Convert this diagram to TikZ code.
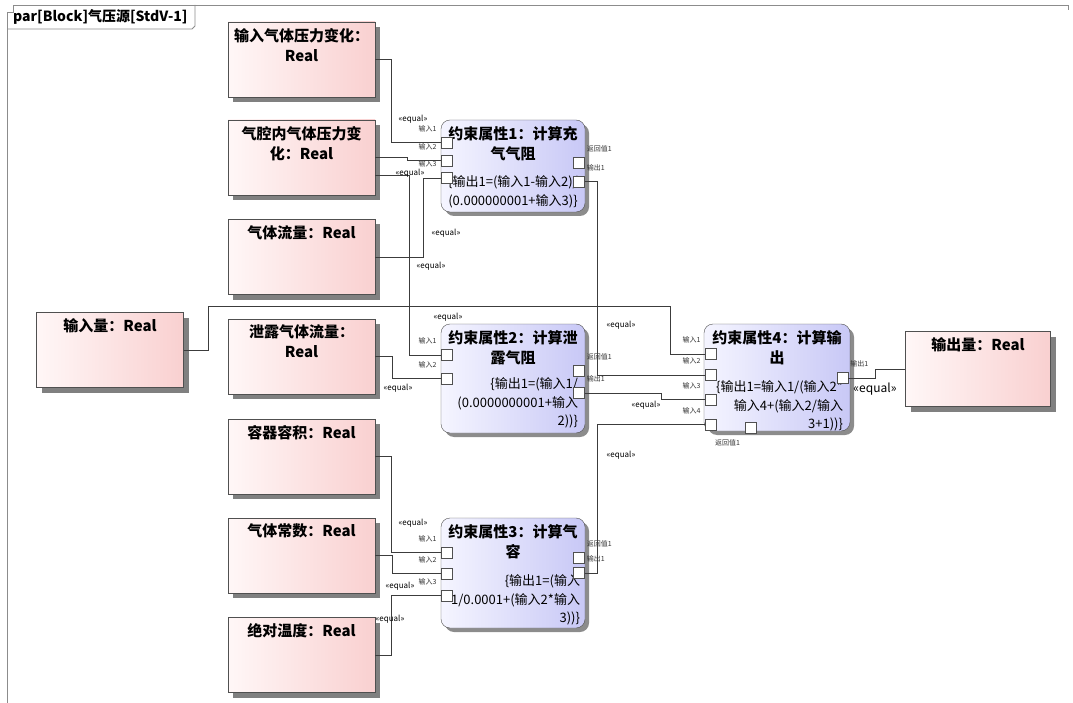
\documentclass[tikz,border=0pt]{standalone}
\usepackage{fontspec}
\setmainfont{Noto Sans CJK SC}
\usetikzlibrary{positioning,shadows}

\definecolor{pinkL}{HTML}{FFF7F7}
\definecolor{pinkR}{HTML}{F9D0D0}
\definecolor{lavL}{HTML}{F5F5FF}
\definecolor{lavR}{HTML}{C8C8F6}
\definecolor{edge}{HTML}{505050}
\definecolor{wirec}{HTML}{3C3C3C}
\definecolor{framec}{HTML}{8C8C8C}

\begin{document}
\begin{tikzpicture}[
  x=1pt, y=-1pt,
  part/.style={draw=edge,left color=pinkL,right color=pinkR,
    minimum width=147pt,minimum height=75pt,inner sep=0pt,
    drop shadow={shadow xshift=5pt,shadow yshift=-5pt,fill=black!50,opacity=1}},
  cons/.style={draw=edge,rounded corners=9pt,left color=lavL,right color=lavR,
    minimum width=144pt,inner sep=0pt,
    drop shadow={shadow xshift=4pt,shadow yshift=-4pt,fill=black!45,opacity=1}},
  ttl/.style={font=\fontsize{15}{20}\selectfont\bfseries,align=center,inner sep=0pt},
  rule/.style={font=\fontsize{13}{18.5}\selectfont,inner sep=0pt},
  port/.style={draw=edge,fill=white,minimum size=11pt,inner sep=0pt},
  plbl/.style={font=\fontsize{7}{8}\selectfont,inner sep=0pt,text=black!80},
  eq/.style={font=\fontsize{8}{9}\selectfont,inner sep=0pt},
  wire/.style={draw=wirec,line width=0.8pt}
]
  \useasboundingbox (0,0) rectangle (1073,703);

  % value parts
  \node[part] (in1) at (301.5,59.5) {};
  \node[part] (in2) at (301.5,157.5) {};
  \node[part] (in3) at (301.5,257) {};
  \node[part] (in4) at (110,350) {};
  \node[part] (in5) at (301.5,356.5) {};
  \node[part] (in6) at (301.5,456.5) {};
  \node[part] (in7) at (301.5,555.5) {};
  \node[part] (in8) at (301.5,655) {};
  \node[part,minimum width=145pt] (out) at (978,369) {};

  \node[ttl,below=6pt of in1.north] (in1t) {输入气体压力变化：\\Real};
  \node[ttl,below=6pt of in2.north] (in2t) {气腔内气体压力变\\化：Real};
  \node[ttl,below=6pt of in3.north] (in3t) {气体流量：Real};
  \node[ttl,below=6pt of in4.north] (in4t) {输入量：Real};
  \node[ttl,below=6pt of in5.north] (in5t) {泄露气体流量：\\Real};
  \node[ttl,below=6pt of in6.north] (in6t) {容器容积：Real};
  \node[ttl,below=6pt of in7.north] (in7t) {气体常数：Real};
  \node[ttl,below=6pt of in8.north] (in8t) {绝对温度：Real};
  \node[ttl,below=6pt of out.north] (outt) {输出量：Real};

  % constraint properties
  \node[cons,minimum height=92pt] (c1) at (513,166) {};
  \node[cons,minimum height=109pt] (c2) at (513,378.5) {};
  \node[cons,minimum height=110pt] (c3) at (513,573) {};
  \node[cons,minimum width=146pt,minimum height=107pt] (c4) at (777,377.5) {};

  \node[ttl,below=7pt of c1.north] (c1t) {约束属性1：计算充\\气气阻};
  \node[ttl,below=7pt of c2.north] (c2t) {约束属性2：计算泄\\露气阻};
  \node[ttl,below=7pt of c3.north] (c3t) {约束属性3：计算气\\容};
  \node[ttl,below=7pt of c4.north] (c4t) {约束属性4：计算输\\出};

  \node[rule,align=center,below=14pt of c1t] (c1b)
    {\{输出1=(输入1-输入2)/\\(0.000000001+输入3)\}};
  \node[rule,align=right,anchor=north east,xshift=-7pt,yshift=-12pt] (c2b)
    at (c2t.south -| c2.east) {\{输出1=(输入1/\\(0.0000000001+输入\\2))\}};
  \node[rule,align=right,anchor=north east,xshift=-5pt,yshift=-15pt] (c3b)
    at (c3t.south -| c3.east) {\{输出1=(输入\\1/0.0001+(输入2*输入\\3))\}};
  \node[rule,align=right,anchor=north east,xshift=-7pt,yshift=-15pt] (c4b)
    at (c4t.south -| c4.east) {\{输出1=输入1/(输入2*\\输入4+(输入2/输入\\3+1))\}};

  % ports
  \foreach \p/\x/\y/\t in {c1i1/446.5/142.5/输入1, c1i2/446.5/160.5/输入2,
      c1i3/446.5/178/输入3, c2i1/446.5/355/输入1, c2i2/446.5/378.5/输入2,
      c3i1/446.5/552.5/输入1, c3i2/446.5/573.5/输入2, c3i3/446.5/595.5/输入3,
      c4i1/710.5/354/输入1, c4i2/710.5/375/输入2, c4i3/710.5/399.5/输入3,
      c4i4/710.5/424.5/输入4}
  {
    \node[port] (\p) at (\x,\y) {};
    \node[plbl,anchor=south east] (\p-l) at ([xshift=-4pt,yshift=5pt]\p.north west) {\t};
  }
  \foreach \p/\x/\y/\t in {c1r/579/162.5/返回值1, c1o/579/181.5/输出1,
      c2r/579/370.5/返回值1, c2o/579/393/输出1, c3r/579/558/返回值1,
      c3o/579/573/输出1, c4o/842.5/378/输出1}
  {
    \node[port] (\p) at (\x,\y) {};
    \node[plbl,anchor=south west] (\p-l) at ([xshift=2pt,yshift=5pt]\p.north east) {\t};
  }
  \node[port] (c4r) at (751,427.5) {};
  \node[plbl,anchor=north east] (c4r-l) at ([xshift=-5pt,yshift=-6pt]c4r.south west) {返回值1};

  % bindings
  \draw[wire] (in1.east) -- ++(16,0) |- (c1i1.west);
  \draw[wire] (in2.east) -- ++(32,0) |- (c1i2.west);
  \draw[wire] ([yshift=-18pt]in2.east) -- ++(34,0) |- (c2i1.west);
  \draw[wire] (in3.east) -- ++(48,0) |- (c1i3.west);
  \draw[wire] (in4.east) -- ++(25,0) -- ++(0,-44) -- ++(462,0) |- (c4i1.west);
  \draw[wire] (in5.east) -- ++(17,0) |- (c2i2.west);
  \draw[wire] (in6.east) -- ++(16,0) |- (c3i1.west);
  \draw[wire] (in7.east) -- ++(17,0) |- (c3i2.west);
  \draw[wire] (in8.east) -- ++(16,0) |- (c3i3.west);
  \draw[wire] (c1o.east) -- ++(13,0) |- (c4i2.west);
  \draw[wire] (c2o.east) -- ++(77,0) |- (c4i3.west);
  \draw[wire] (c3o.east) -- ++(13,0) |- (c4i4.west);
  \draw[wire] (c4o.east) -- ++(27,0) |- (out.west);

  \foreach \x/\y [count=\i] in {413/119, 410/173, 446/233, 431/266, 448/317,
      398/388, 621/325, 646/405, 621/455, 413/523, 400/586, 390/619}
    \node[eq] (eq\i) at (\x,\y) {«equal»};
  \node[eq,font=\fontsize{12}{13}\selectfont] (eqout) at (875,389) {«equal»};

  % diagram frame
  \draw[framec,line width=0.8pt] (7,703) -- (7,12) -- (13,12) -- (13,5) -- (1068,5) -- (1068,10);
  \draw[framec,line width=0.8pt] (7,29) -- (192,29) -- (195,26) -- (195,5);
  \node[anchor=west,inner sep=0pt,font=\fontsize{14}{16}\selectfont\bfseries] (frm)
    at (13,17) {par[Block]气压源[StdV-1]};
\end{tikzpicture}
\end{document}
